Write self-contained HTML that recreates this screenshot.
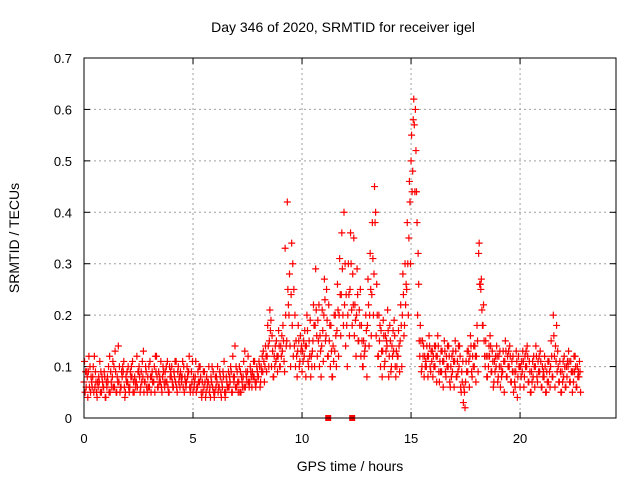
<!DOCTYPE html>
<html><head><meta charset="utf-8"><style>
html,body{margin:0;padding:0;background:#fff}
svg{display:block;font-family:"Liberation Sans",sans-serif}
</style></head><body>
<svg id="chart" width="640" height="480" viewBox="0 0 640 480"></svg>
<script>
const T0 = 0, STEP = 0.1;
const seriesA = [.07,.06,.09,.05,.08,.06,.04,.07,.05,.06,.04,.07,.05,.08,.06,.05,.07,.06,.09,.05,
.07,.06,.08,.05,.07,.09,.06,.08,.07,.05,.06,.08,.07,.09,.06,.07,.08,.06,.07,.05,
.08,.06,.07,.09,.06,.08,.05,.07,.09,.06,.05,.08,.06,.07,.04,.06,.05,.07,.04,.06,
.05,.07,.06,.04,.08,.05,.06,.07,.05,.08,.06,.07,.05,.08,.06,.09,.07,.06,.08,.07,
.08,.07,.09,.10,.12,.15,.10,.08,.11,.12,.10,.13,.09,.15,.20,.24,.12,.10,.13,.11,
.09,.12,.14,.10,.08,.15,.18,.12,.10,.14,.20,.16,.12,.10,.08,.13,.17,.20,.24,.18,
.14,.20,.25,.18,.16,.20,.15,.12,.10,.14,.18,.20,.24,.28,.16,.12,.10,.13,.11,.14,
.12,.10,.13,.08,.12,.15,.20,.18,.25,.35,.50,.58,.60,.20,.12,.10,.08,.10,.12,.09,
.08,.10,.12,.07,.09,.11,.08,.10,.06,.09,.11,.08,.10,.05,.03,.07,.09,.12,.08,.10,
.12,.32,.25,.18,.10,.08,.12,.09,.07,.10,.08,.06,.09,.11,.08,.10,.07,.05,.09,.08,
.06,.09,.08,.10,.07,.05,.08,.10,.07,.09,.06,.08,.05,.07,.10,.08,.06,.09,.07,.05,
.08,.06,.10,.07,.05,.09,.06,.08];
const seriesB = [.11,.09,.12,.08,.10,.09,.07,.11,.08,.09,.07,.10,.09,.11,.13,.08,.10,.09,.11,.08,
.10,.09,.11,.08,.12,.10,.09,.13,.10,.08,.11,.09,.10,.12,.09,.11,.10,.09,.11,.10,
.10,.09,.11,.10,.09,.11,.08,.10,.12,.09,.08,.11,.09,.10,.07,.09,.08,.10,.08,.09,
.08,.10,.09,.07,.11,.08,.09,.10,.12,.14,.09,.10,.08,.11,.09,.12,.10,.09,.11,.10,
.11,.10,.13,.14,.18,.21,.16,.12,.15,.17,.14,.18,.33,.42,.28,.34,.25,.15,.18,.16,
.13,.17,.20,.15,.12,.22,.29,.19,.16,.21,.27,.25,.22,.18,.14,.20,.26,.31,.36,.40,
.24,.30,.36,.28,.22,.29,.21,.18,.15,.20,.27,.32,.38,.45,.26,.20,.17,.19,.16,.21,
.18,.14,.19,.13,.17,.22,.28,.30,.38,.46,.55,.62,.52,.32,.18,.15,.12,.14,.16,.13,
.12,.14,.16,.11,.13,.15,.12,.14,.10,.13,.15,.11,.14,.09,.06,.11,.13,.16,.12,.14,
.18,.34,.27,.22,.15,.12,.16,.13,.11,.14,.12,.10,.13,.15,.12,.14,.11,.09,.13,.12,
.10,.13,.12,.14,.11,.09,.12,.14,.11,.13,.10,.12,.09,.11,.15,.20,.14,.13,.11,.09,
.12,.10,.13,.11,.09,.12,.10,.11];
const seriesC = [.05,.08,.06,.07,.05,.07,.06,.05,.07,.08,.06,.05,.07,.06,.09,.07,.05,.08,.06,.07,
.06,.08,.05,.07,.06,.08,.07,.05,.09,.06,.08,.07,.05,.08,.07,.06,.09,.07,.06,.08,
.07,.08,.06,.07,.08,.06,.07,.08,.06,.07,.06,.05,.07,.08,.05,.07,.06,.05,.07,.05,
.06,.05,.08,.06,.05,.07,.06,.09,.08,.06,.07,.05,.07,.06,.08,.07,.09,.08,.07,.09,
.10,.09,.11,.12,.14,.17,.13,.10,.12,.14,.12,.15,.20,.25,.14,.18,.14,.12,.15,.13,
.11,.14,.17,.12,.10,.18,.21,.15,.13,.17,.23,.19,.15,.13,.11,.16,.21,.24,.29,.22,
.18,.24,.30,.22,.19,.24,.18,.15,.12,.17,.22,.25,.31,.38,.20,.15,.13,.16,.13,.17,
.15,.12,.16,.10,.14,.18,.24,.22,.30,.42,.44,.57,.44,.26,.15,.12,.10,.12,.14,.11,
.10,.12,.14,.09,.11,.13,.10,.12,.08,.11,.13,.09,.12,.07,.05,.09,.11,.14,.10,.12,
.15,.26,.21,.15,.12,.10,.14,.11,.09,.12,.10,.08,.11,.13,.10,.12,.09,.07,.11,.10,
.08,.11,.10,.12,.09,.07,.10,.12,.09,.11,.08,.10,.07,.09,.12,.16,.11,.10,.09,.07,
.10,.08,.11,.09,.07,.10,.08,.09];
const seriesD = [.09,.04,.10,.06,.12,.05,.08,.09,.06,.04,.08,.12,.06,.10,.05,.14,.06,.10,.04,.09,
.05,.10,.07,.06,.09,.05,.11,.07,.06,.10,.05,.07,.12,.06,.08,.05,.07,.10,.05,.09,
.06,.11,.05,.08,.07,.10,.06,.09,.05,.11,.07,.06,.10,.05,.09,.04,.07,.06,.10,.04,
.08,.06,.05,.09,.04,.06,.08,.05,.07,.10,.05,.09,.06,.13,.07,.06,.08,.11,.06,.08,
.06,.12,.07,.09,.10,.19,.08,.14,.09,.10,.16,.11,.14,.22,.10,.30,.20,.08,.10,.14,
.15,.08,.11,.19,.13,.10,.16,.22,.08,.11,.15,.12,.18,.08,.20,.10,.12,.16,.20,.30,
.10,.16,.21,.35,.12,.15,.25,.10,.13,.08,.14,.16,.20,.40,.12,.18,.08,.10,.15,.08,
.09,.17,.10,.12,.09,.10,.16,.26,.20,.30,.48,.44,.38,.15,.09,.14,.11,.08,.10,.13,
.14,.07,.09,.13,.06,.09,.14,.07,.12,.06,.08,.14,.06,.11,.02,.13,.06,.09,.14,.07,
.09,.26,.18,.12,.08,.14,.09,.06,.12,.07,.13,.09,.05,.08,.13,.07,.12,.06,.04,.10,
.11,.06,.13,.07,.05,.11,.06,.08,.12,.06,.09,.05,.11,.06,.08,.12,.18,.07,.05,.11,
.06,.11,.07,.09,.12,.06,.09,.05];
const zeroMarkers = [11.2, 12.3];
const xTicks = [0,5,10,15,20];
const yTicks = [0,0.1,0.2,0.3,0.4,0.5,0.6,0.7];

const L=84,R=616,TOP=58,BOT=418,XMAX=24.4,YMAX=0.7;
const xs=v=>L+(v/XMAX)*(R-L);
const ys=v=>BOT-(v/YMAX)*(BOT-TOP);
const svg=document.getElementById('chart');
const NS='http://www.w3.org/2000/svg';
function mk(tag,attrs,parent){const e=document.createElementNS(NS,tag);for(const k in attrs)e.setAttribute(k,attrs[k]);(parent||svg).appendChild(e);return e;}

const grid=mk('g',{});


yTicks.forEach(v=>{
  if(v>0&&v<YMAX) mk('line',{x1:L,x2:R,y1:ys(v),y2:ys(v),stroke:'#a0a0a0','stroke-dasharray':'2,3'},grid);
  mk('line',{x1:L,x2:L+6,y1:ys(v),y2:ys(v),stroke:'#000'},grid);
  mk('line',{x1:R,x2:R-6,y1:ys(v),y2:ys(v),stroke:'#000'},grid);
  const t=mk('text',{x:L-12,y:ys(v)+5,'text-anchor':'end','font-size':13,fill:'#000'});
  
  
  t.textContent=v===0?'0':v.toFixed(1);
});
xTicks.forEach(v=>{
  if(v>0) mk('line',{x1:xs(v),x2:xs(v),y1:TOP,y2:BOT,stroke:'#a0a0a0','stroke-dasharray':'2,3'},grid);
  mk('line',{x1:xs(v),x2:xs(v),y1:BOT,y2:BOT-6,stroke:'#000'},grid);
  mk('line',{x1:xs(v),x2:xs(v),y1:TOP,y2:TOP+6,stroke:'#000'},grid);
  const t=mk('text',{x:xs(v),y:443,'text-anchor':'middle','font-size':13,fill:'#000'});
  
  
  t.textContent=String(v);
});

const pts=mk('g',{stroke:'#ff0000','stroke-width':1.2});


[[seriesA,0],[seriesB,0.025],[seriesC,0.05],[seriesD,0.075]].forEach(([arr,off])=>{
  arr.forEach((v,i)=>{
    const x=xs(T0+i*STEP+off), y=ys(v);
    const p=mk('path',{d:`M${x-3.5},${y}h7M${x},${y-3.5}v7`},pts);
    
    
  });
});
zeroMarkers.forEach(v=>{
  const r=mk('rect',{x:xs(v)-3,y:BOT-3,width:6,height:6,fill:'#ff0000'});
  
  
});

const frame=mk('rect',{x:L,y:TOP,width:R-L,height:BOT-TOP,fill:'none',stroke:'#000'});



const title=mk('text',{x:343,y:32,'text-anchor':'middle','font-size':14,fill:'#000'});


title.textContent='Day 346 of 2020, SRMTID for receiver igel';
const xl=mk('text',{x:350,y:471,'text-anchor':'middle','font-size':14,fill:'#000'});


xl.textContent='GPS time / hours';
const yl=mk('text',{x:19,y:238,'text-anchor':'middle','font-size':14,fill:'#000',transform:'rotate(-90 19 238)'});


yl.textContent='SRMTID / TECUs';
</script>
</body></html>
